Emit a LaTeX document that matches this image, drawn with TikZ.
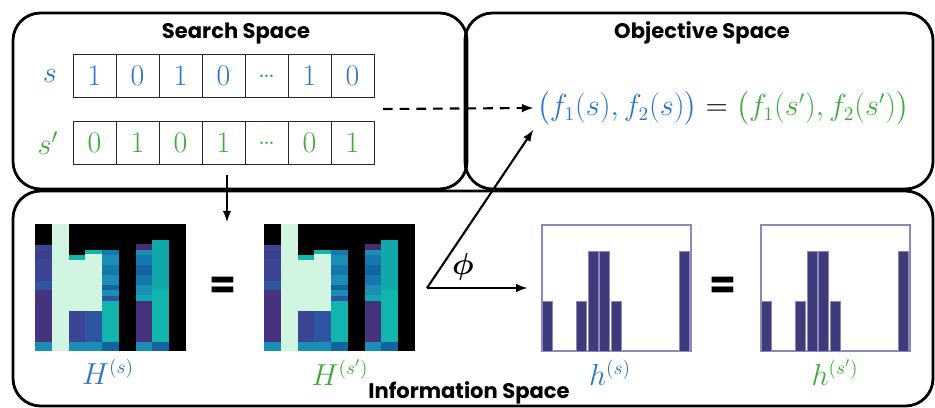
\documentclass[tikz,border=0pt]{standalone}
\usepackage{amsmath,amssymb}
\usepackage{bm}
\usepackage{xcolor}
\usepackage{fontspec}
\setsansfont{Poppins}
\usepackage{tikz}

\definecolor{sblue}{RGB}{46,117,200}
\definecolor{sgreen}{RGB}{62,170,58}
\definecolor{barcol}{HTML}{3F3A7A}
\definecolor{baredge}{HTML}{8A88BC}
\definecolor{hmLight}{HTML}{D2F5E2}
\definecolor{hmPurple}{HTML}{46337E}
\definecolor{hmDeep}{HTML}{452F70}
\definecolor{hmInk}{HTML}{3B4594}
\definecolor{hmInkB}{HTML}{2F56A3}
\definecolor{hmInkC}{HTML}{3E3F8C}
\definecolor{hmTeal}{HTML}{12B4AE}
\definecolor{hmTealB}{HTML}{10A8AA}
\definecolor{hmSea}{HTML}{1A8EB4}
\definecolor{hmSeaB}{HTML}{1478AC}
\definecolor{hmSeaC}{HTML}{1464A4}

\tikzset{
  spacebox/.style={line width=1.6pt,rounded corners=0.55cm},
  spacetitle/.style={font=\sffamily\bfseries\fontsize{12}{14}\selectfont},
  bitcell/.style={draw=black!85,line width=0.55pt,minimum width=0.86cm,minimum height=0.86cm,inner sep=0pt,font=\fontsize{17}{20}\selectfont},
  bigeq/.style={font=\sffamily\bfseries\fontsize{22}{24}\selectfont},
  maplabel/.style={font=\fontsize{16}{19}\selectfont},
  histbox/.style={draw=baredge,line width=0.7pt,minimum width=2.98cm,minimum height=2.52cm,inner sep=0pt},
}

\begin{document}
\begin{tikzpicture}[x=0.02cm,y=-0.02cm,>=latex]
\useasboundingbox (0,0) rectangle (935,408);

% the three spaces
\draw[spacebox] (13,13) rectangle (467,189);
\draw[spacebox] (465,13) rectangle (933,189);
\draw[spacebox] (13,191) rectangle (933,406);
\node[spacetitle] (tsearch) at (236,34) {Search Space};
\node[spacetitle] (tobj) at (702,33) {Objective Space};
\node[spacetitle] (tinfo) at (469,393) {Information Space};

% solutions
\node[font=\fontsize{17}{20}\selectfont,text=sblue] (ls) at (50,76) {$s$};
\node[font=\fontsize{17}{20}\selectfont,text=sgreen] (lt) at (48,143) {$s'$};
\foreach \i/\b in {1/1,2/0,3/1,4/0,5/\ldots,6/1,7/0}
  \node[bitcell,text=sblue] (s\i) at ({73+(\i-0.5)*43},76) {\b};
\foreach \i/\b in {1/0,2/1,3/0,4/1,5/\ldots,6/0,7/1}
  \node[bitcell,text=sgreen] (t\i) at ({73+(\i-0.5)*43},143) {\b};

% objectives
\node[font=\fontsize{16}{19}\selectfont,inner sep=2pt] (obj) at (723,108)
  {${\color{sblue}\bigl(f_1(s),f_2(s)\bigr)} = {\color{sgreen}\bigl(f_1(s'),f_2(s')\bigr)}$};
\coordinate (dstart) at (383,109);
\draw[->,dashed,line width=1.2pt,dash pattern=on 5.5pt off 4pt] (dstart) -- (obj.west);

% heatmaps
\coordinate (down) at (227,175);
\coordinate (downend) at (227,222);
\draw[->,line width=1.2pt] (down) -- (downend);
\foreach \hx/\nm in {35/HA,264/HB}{
  \begin{scope}[shift={(\hx,224)}]
    \fill[black] (0,0) rectangle (151,127);
    \foreach \c/\ya/\yb/\col in {0/21/27/hmInk,0/27/35/hmInkC,0/35/47/hmInk,0/47/57/hmInk,0/57/66/hmInkB,
      0/66/118/hmPurple,0/118/127/hmSea,1/0/127/hmLight,
      2/31/36/hmTeal,2/36/87/hmLight,2/87/118/hmInk,2/118/127/hmSea,
      3/26/30/hmTeal,3/30/87/hmLight,3/87/118/hmInkB,3/118/127/hmSea,
      4/26/31/hmSeaB,4/31/41/hmSea,4/41/51/hmSeaB,4/51/61/hmSea,4/61/66/hmSeaC,4/66/72/hmSea,4/72/77/hmInkB,
      4/77/118/hmTeal,4/118/127/hmSeaC,
      6/20/26/hmDeep,6/26/31/hmSea,6/31/41/hmSeaB,6/41/51/hmSeaC,6/51/61/hmSeaB,6/61/71/hmSea,6/71/77/hmTealB,
      6/77/118/hmPurple,6/118/127/hmSea,
      7/16/66/hmTealB,7/66/118/hmTeal,7/118/127/hmSeaC}
      \fill[\col] ({\c*16.78},\ya) rectangle ({(\c+1)*16.78},\yb);
    \coordinate (\nm) at (75.5,63.5);
  \end{scope}
}
\node[bigeq] (eqH) at (223,288) {=};
\node[maplabel,text=sblue] (lHA) at (108,372) {$H^{(s)}$};
\node[maplabel,text=sgreen] (lHB) at (340,373) {$H^{(s')}$};

% histograms
\node[histbox] (hA) at (616.5,288) {};
\node[histbox] (hB) at (835.5,288) {};
\foreach \h in {hA,hB}
  \foreach \b/\hgt in {0/50,3/50,4/100,5/100,6/50,12/100}
    \filldraw[fill=barcol,draw=baredge,line width=0.3pt]
      ([xshift={(\b*11.46+0.8)*0.02cm}]\h.south west) rectangle ([xshift={(\b*11.46+10.7)*0.02cm},yshift={\hgt*0.02cm}]\h.south west);
\node[bigeq] (eqh) at (723,288) {=};
\node[maplabel,text=sblue] (lhA) at (610,373) {$h^{(s)}$};
\node[maplabel,text=sgreen] (lhB) at (835,373) {$h^{(s')}$};

% phi
\coordinate (phi) at (427,288);
\draw[->,line width=1.2pt] (phi) -- (obj.south west);
\draw[->,line width=1.2pt,shorten >=8pt] (phi) -- (hA.west);
\node[maplabel] (lphi) at (463,267) {$\bm{\phi}$};
\end{tikzpicture}
\end{document}
